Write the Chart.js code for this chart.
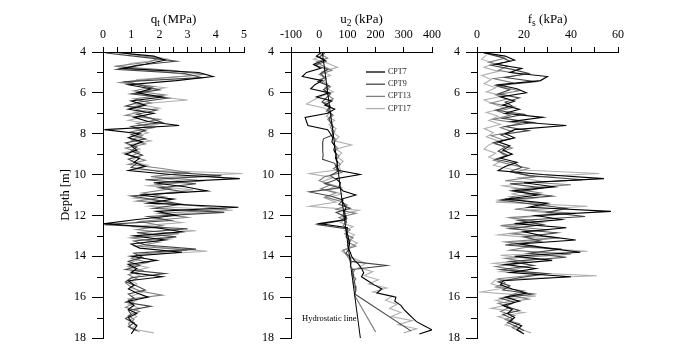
<!DOCTYPE html>
<html>
<head>
<meta charset="utf-8">
<script src="https://cdn.jsdelivr.net/npm/chart.js@4.4.1/dist/chart.umd.min.js"></script>
<style>
  html, body { margin: 0; padding: 0; background: #fff; }
  #wrap { position: relative; width: 681px; height: 356px; }
  #wrap canvas { position: absolute; left: 0; top: 0; }
</style>
</head>
<body>
<div id="wrap">
  <canvas id="qtChart" width="681" height="356"></canvas>
  <canvas id="u2Chart" width="681" height="356"></canvas>
  <canvas id="fsChart" width="681" height="356"></canvas>
</div>
<script>
// soundings
var cpt = ["CPT7", "CPT9", "CPT13", "CPT17"];
var colors = ["#000000", "#444444", "#808080", "#b0b0b0"];

// depths (m) of the readings of each sounding
var depth7 = [4.0, 4.2, 4.4, 4.6, 4.8, 5.0, 5.2, 5.4, 5.6, 5.8,
  6.0, 6.2, 6.4, 6.6, 6.8, 7.0, 7.2, 7.4, 7.6, 7.8,
  8.0, 8.2, 8.4, 8.6, 8.8, 9.0, 9.2, 9.4, 9.6, 9.8,
  10.0, 10.2, 10.4, 10.6, 10.8, 11.0, 11.2, 11.4, 11.6, 11.8,
  12.0, 12.2, 12.4, 12.6, 12.8, 13.0, 13.2, 13.4, 13.6, 13.8,
  14.0, 14.2, 14.4, 14.6, 14.8, 15.0, 15.2, 15.4, 15.6, 15.8,
  16.0, 16.2, 16.4, 16.6, 16.8, 17.0, 17.2, 17.4, 17.6, 17.8];
var depth9 = [4.05, 4.25, 4.45, 4.65, 4.85, 5.05, 5.25, 5.45, 5.65, 5.85,
  6.05, 6.25, 6.45, 6.65, 6.85, 7.05, 7.25, 7.45, 7.65, 7.85,
  8.05, 8.25, 8.45, 8.65, 8.85, 9.05, 9.25, 9.45, 9.65, 9.85,
  10.05, 10.25, 10.45, 10.65, 10.85, 11.05, 11.25, 11.45, 11.65, 11.85,
  12.05, 12.25, 12.45, 12.65, 12.85, 13.05, 13.25, 13.45, 13.65, 13.85,
  14.05, 14.25, 14.45, 14.65, 14.85, 15.05, 15.25, 15.45, 15.65, 15.85,
  16.05, 16.25, 16.45, 16.65, 16.85, 17.05, 17.25, 17.45, 17.65];
var depth13 = [4.1, 4.3, 4.5, 4.7, 4.9, 5.1, 5.3, 5.5, 5.7, 5.9,
  6.1, 6.3, 6.5, 6.7, 6.9, 7.1, 7.3, 7.5, 7.7, 7.9,
  8.1, 8.3, 8.5, 8.7, 8.9, 9.1, 9.3, 9.5, 9.7, 9.9,
  10.1, 10.3, 10.5, 10.7, 10.9, 11.1, 11.3, 11.5, 11.7, 11.9,
  12.1, 12.3, 12.5, 12.7, 12.9, 13.1, 13.3, 13.5, 13.7, 13.9,
  14.1, 14.3, 14.5, 14.7, 14.9, 15.1, 15.3, 15.5, 15.7, 15.9,
  16.1, 16.3, 16.5, 16.7, 16.9, 17.1, 17.3, 17.5, 17.7];
var depth17 = [4.15, 4.35, 4.55, 4.75, 4.95, 5.15, 5.35, 5.55, 5.75, 5.95,
  6.15, 6.35, 6.55, 6.75, 6.95, 7.15, 7.35, 7.55, 7.75, 7.95,
  8.15, 8.35, 8.55, 8.75, 8.95, 9.15, 9.35, 9.55, 9.75, 9.95,
  10.15, 10.35, 10.55, 10.75, 10.95, 11.15, 11.35, 11.55, 11.75, 11.95,
  12.15, 12.35, 12.55, 12.75, 12.95, 13.15, 13.35, 13.55, 13.75, 13.95,
  14.15, 14.35, 14.55, 14.75, 14.95, 15.15, 15.35, 15.55, 15.75, 15.95,
  16.15, 16.35, 16.55, 16.75, 16.95, 17.15, 17.35, 17.55, 17.75];

// cone resistance qt (MPa)
var qt7 = [0.3, 1.8, 2.2, 1.5, 0.7, 3.4, 3.9, 2.6, 0.9, 1.7,
  1.2, 2.1, 1.0, 1.5, 0.9, 1.8, 1.1, 1.6, 2.7, 0.05,
  1.3, 0.9, 1.4, 1.0, 1.2, 0.8, 1.3, 1.1, 1.5, 0.9,
  2.4, 4.85, 1.8, 2.9, 3.7, 1.3, 2.5, 1.6, 4.8, 1.9,
  2.6, 1.2, 0.05, 1.9, 2.8, 1.1, 2.2, 1.0, 1.3, 2.8,
  1.0, 1.9, 0.9, 1.2, 1.0, 2.1, 0.9, 1.1, 0.9, 1.2,
  1.6, 0.9, 1.1, 0.9, 1.2, 0.9, 1.0, 1.2, 1.1, 1.0];
var qt9 = [0.1, 1.4, 2.6, 1.2, 0.5, 2.9, 3.5, 0.8, 1.4, 2.0,
  1.0, 2.3, 1.3, 0.8, 1.9, 1.2, 1.7, 2.1, 1.0, 1.5,
  1.0, 1.5, 0.8, 1.2, 1.0, 1.4, 0.9, 1.2, 1.0, 2.0,
  4.2, 1.5, 3.3, 2.0, 2.9, 1.0, 1.9, 2.8, 1.8, 4.3,
  1.6, 2.4, 0.05, 3.0, 1.2, 2.6, 1.1, 1.5, 3.3, 1.1,
  1.4, 0.9, 1.3, 0.8, 2.2, 1.0, 0.8, 1.2, 1.5, 0.9,
  1.1, 0.8, 1.7, 0.9, 1.0, 0.8, 1.1, 0.9, 1.2];
var qt13 = [0.9, 2.0, 1.6, 0.4, 2.4, 3.6, 1.9, 0.6, 1.8, 1.1,
  2.2, 1.1, 1.7, 1.0, 1.4, 0.8, 2.0, 1.2, 1.8, 1.0,
  1.4, 1.0, 1.5, 0.8, 1.3, 1.0, 1.5, 0.9, 2.1, 3.0,
  1.7, 3.6, 1.9, 2.4, 1.4, 2.2, 1.2, 3.1, 4.4, 2.0,
  3.0, 1.3, 2.1, 1.2, 2.7, 1.0, 2.0, 1.2, 3.0, 1.3,
  1.0, 1.6, 0.9, 1.4, 0.9, 1.2, 0.8, 1.0, 1.3, 2.1,
  0.9, 1.1, 0.8, 1.3, 0.9, 1.1, 0.9, 1.0, 1.3];
var qt17 = [1.5, 2.3, 1.0, 0.6, 2.0, 3.3, 1.2, 1.0, 2.2, 1.3,
  1.6, 3.0, 1.2, 2.0, 1.1, 1.5, 0.9, 1.9, 1.1, 1.6,
  1.1, 1.7, 0.9, 1.3, 0.7, 1.2, 1.0, 1.6, 1.1, 4.95,
  2.0, 2.9, 1.6, 3.2, 1.8, 1.1, 2.4, 1.6, 4.6, 2.5,
  1.8, 2.8, 1.0, 3.3, 1.5, 2.4, 1.3, 1.9, 3.7, 1.2,
  1.3, 0.9, 1.6, 1.0, 1.3, 0.9, 1.2, 1.0, 1.4, 1.0,
  1.2, 0.9, 1.3, 1.0, 1.2, 0.9, 1.2, 1.0, 1.8];

// pore pressure u2 (kPa), null = no reading
var u7 = [10, -10, 20, -20, 5, -45, -60, 10, -15, -30,
  35, -10, 45, 20, 55, 30, -50, -45, -40, 30,
  40, 48, 45, 55, 52, 60, 58, 65, 62, 70,
  145, 60, 75, 70, 85, 130, 80, 85, 95, 90,
  92, 95, 0, 100, 98, 102, 105, 108, 104, 110,
  115, 125, 140, 150, 158, 150, 172, 195, 222, 205,
  272, 268, 290, 300, 315, 330, 345, 372, 400, 355];
var u9 = [20, 0, 25, -15, 30, 5, 20, -5, 35, 15,
  40, 25, 10, 40, 30, 45, 35, 40, 50, 45,
  50, 15, 12, 13, 12, 14, 12, 55, 60, 65,
  40, 60, 20, 75, -35, 40, 85, 70, 110, 60,
  90, 80, -5, 95, 100, 95, 110, 100, 105, 95,
  110, 112, 240, 118, 120, 122, 125, 128, 130, 126,
  null, null, null, null, null, null, null, null, 325];
var u13 = [5, 30, -10, 15, 45, 0, 25, 10, 40, 20,
  30, 50, 15, 35, 25, 50, 30, 45, 40, 55,
  45, 60, 50, 65, 55, 70, 60, 75, 50, 80,
  20, 0, 40, 5, 60, 20, 75, 100, 60, 130,
  70, 95, 85, 110, 90, 120, 100, 130, 85, 95,
  105, 115, 110, 125, 115, 130, 120, 125, 130, 125,
  null, null, null, null, null, null, null, null, 200];
var u17 = [15, -20, 30, 65, 10, 40, 0, 30, 20, 50,
  10, -20, -45, 20, 40, 25, 55, 35, 60, 50,
  70, 55, 115, 60, 80, 65, 85, 70, 75, -35,
  50, 10, 60, 30, 80, 20, 60, -35, 140, 80,
  100, 75, 120, 90, 125, 105, 135, 110, 80, 100,
  130, 165, 140, 190, 160, 210, 175, 240, 190, 260,
  235, 275, 250, 290, 255, 330, 280, 345, 300];

// hydrostatic line
var hydroDepth = [4, 18];
var hydroU = [11, 146];

// sleeve friction fs (kPa)
var fs7 = [1, 12, 16, 8, 19, 14, 30, 27, 9, 17,
  21, 10, 16, 11, 18, 12, 28, 15, 38, 16,
  12, 16, 9, 14, 11, 15, 10, 17, 12, 9,
  28, 54, 20, 33, 15, 26, 12, 30, 22, 57,
  25, 36, 16, 38, 20, 28, 42, 18, 30, 44,
  16, 32, 12, 25, 14, 40, 11, 10, 15, 21,
  12, 18, 11, 15, 13, 16, 14, 19, 17, 20];
var fs9 = [3, 10, 14, 6, 15, 22, 12, 25, 8, 14,
  9, 18, 12, 15, 8, 20, 11, 24, 12, 22,
  10, 14, 7, 12, 9, 13, 8, 16, 19, 14,
  22, 45, 14, 28, 18, 32, 10, 24, 38, 30,
  46, 18, 28, 14, 34, 20, 27, 12, 36, 22,
  38, 14, 24, 10, 30, 18, 9, 14, 11, 24,
  10, 16, 12, 18, 11, 15, 13, 17, 20];
var fs13 = [6, 12, 5, 13, 9, 20, 7, 15, 10, 18,
  8, 13, 6, 16, 9, 14, 7, 18, 10, 15,
  6, 11, 8, 15, 10, 12, 7, 14, 22, 16,
  25, 12, 40, 16, 27, 14, 20, 30, 16, 42,
  14, 26, 10, 30, 15, 35, 12, 24, 14, 40,
  12, 22, 8, 18, 26, 9, 12, 8, 20, 14,
  22, 9, 14, 10, 16, 12, 18, 15, 19];
var fs17 = [4, 2, 7, 3, 9, 2, 6, 3, 8, 4,
  11, 3, 7, 12, 4, 9, 5, 10, 3, 7,
  4, 9, 5, 3, 8, 5, 10, 7, 15, 52,
  18, 28, 11, 22, 15, 25, 8, 47, 20, 35,
  15, 28, 12, 22, 9, 30, 14, 20, 47, 10,
  25, 7, 20, 10, 51, 8, 6, 12, 1.5, 25,
  8, 14, 6, 20, 9, 15, 12, 18, 23];

// unlabelled depth ticks
var minorDepths = [5, 7, 9, 11, 13, 15, 17];

var depths = [depth7, depth9, depth13, depth17];
var serif = "'Liberation Serif', 'Times New Roman', serif";
Chart.defaults.font.family = serif;
Chart.defaults.font.size = 12;
Chart.defaults.color = "#000";

function points(dep, vals) {
  return dep.map(function (d, i) { return { x: vals[i], y: d }; })
    .filter(function (p) { return p.x !== null; });
}

function profile(vals) {
  return vals.map(function (v, i) {
    return {
      label: cpt[i],
      data: points(depths[i], v),
      borderColor: colors[i],
      borderWidth: 1.1,
      pointRadius: 0,
      showLine: true,
      tension: 0
    };
  });
}

// titles with subscripts, depth label, minor ticks, legend
var decor = {
  id: "decor",
  afterDraw: function (chart, args, o) {
    var ctx = chart.ctx, a = chart.chartArea, y = chart.scales.y;
    ctx.save();
    ctx.strokeStyle = "#000";
    ctx.lineWidth = 1;
    minorDepths.forEach(function (v) {
      var py = Math.round(y.getPixelForValue(v)) + 0.5;
      ctx.beginPath();
      ctx.moveTo(a.left - 6, py);
      ctx.lineTo(a.left, py);
      ctx.stroke();
    });

    ctx.fillStyle = "#000";
    ctx.textBaseline = "alphabetic";
    ctx.textAlign = "left";
    var big = "13px " + serif, small = "9.5px " + serif;
    ctx.font = big;
    var w1 = ctx.measureText(o.main).width, w3 = ctx.measureText(o.unit).width;
    ctx.font = small;
    var w2 = ctx.measureText(o.sub).width;
    var x0 = (a.left + a.right) / 2 - (w1 + w2 + w3) / 2;
    ctx.font = big;
    ctx.fillText(o.main, x0, 23);
    ctx.font = small;
    ctx.fillText(o.sub, x0 + w1, 26);
    ctx.font = big;
    ctx.fillText(o.unit, x0 + w1 + w2, 23);

    if (o.depthLabel) {
      ctx.save();
      ctx.translate(66, (a.top + a.bottom) / 2);
      ctx.rotate(-Math.PI / 2);
      ctx.textAlign = "center";
      ctx.textBaseline = "middle";
      ctx.font = "12.5px " + serif;
      ctx.fillText("Depth [m]", 0, 0);
      ctx.restore();
    }

    if (o.legend) {
      ctx.font = "8px " + serif;
      ctx.textBaseline = "middle";
      chart.data.datasets.forEach(function (ds) {
        var k = cpt.indexOf(ds.label);
        if (k < 0) return;
        var ly = 72 + k * 12.2;
        ctx.strokeStyle = ds.borderColor;
        ctx.lineWidth = 1.3;
        ctx.beginPath();
        ctx.moveTo(366, ly);
        ctx.lineTo(385, ly);
        ctx.stroke();
        ctx.fillStyle = "#222";
        ctx.fillText(ds.label, 388, ly);
      });
      ctx.fillStyle = "#000";
      ctx.font = "8.5px " + serif;
      ctx.fillText("Hydrostatic line", 302, 319);
    }
    ctx.restore();
  }
};

function panel(id, datasets, xs, deco) {
  return new Chart(document.getElementById(id), {
    type: "scatter",
    data: { datasets: datasets },
    options: {
      responsive: false,
      animation: false,
      events: [],
      layout: { padding: { left: xs.left - 40, right: 681 - xs.right, top: 0, bottom: 18 } },
      plugins: { legend: { display: false }, tooltip: { enabled: false }, decor: deco },
      scales: {
        x: {
          type: "linear",
          position: "top",
          min: xs.min,
          max: xs.max,
          afterFit: function (s) { s.height = 52; },
          afterBuildTicks: function (s) {
            s.ticks = xs.ticks.map(function (v) { return { value: v }; });
          },
          ticks: {
            autoSkip: false,
            maxRotation: 0,
            padding: 5,
            callback: function (v) { return xs.labels.indexOf(v) >= 0 ? String(v) : ""; }
          },
          grid: { drawOnChartArea: false, tickLength: 5, color: "#000" },
          border: { color: "#000", width: 1 }
        },
        y: {
          type: "linear",
          reverse: true,
          min: 4,
          max: 18,
          afterFit: function (s) { s.width = 40; },
          ticks: {
            stepSize: 1,
            autoSkip: false,
            padding: 6,
            callback: function (v) { return v % 2 === 0 ? String(v) : ""; }
          },
          grid: {
            drawOnChartArea: false,
            tickLength: 11,
            color: function (c) { return c.tick && c.tick.value % 2 ? "rgba(0,0,0,0)" : "#000"; }
          },
          border: { color: "#000", width: 1 }
        }
      }
    },
    plugins: [decor]
  });
}

panel("qtChart", profile([qt7, qt9, qt13, qt17]),
  { left: 103, right: 244, min: 0, max: 5,
    ticks: [0, 0.5, 1, 1.5, 2, 2.5, 3, 3.5, 4, 4.5, 5], labels: [0, 1, 2, 3, 4, 5] },
  { main: "q", sub: "t", unit: " (MPa)", depthLabel: true });

var u2Sets = profile([u7, u9, u13, u17]);
u2Sets.unshift({
  label: "Hydrostatic line",
  data: points(hydroDepth, hydroU),
  borderColor: "#000",
  borderWidth: 1,
  pointRadius: 0,
  showLine: true
});
panel("u2Chart", u2Sets,
  { left: 291, right: 432, min: -100, max: 400,
    ticks: [-100, 0, 100, 200, 300, 400], labels: [-100, 0, 100, 200, 300, 400] },
  { main: "u", sub: "2", unit: " (kPa)", legend: true });

panel("fsChart", profile([fs7, fs9, fs13, fs17]),
  { left: 477, right: 618, min: 0, max: 60,
    ticks: [0, 10, 20, 30, 40, 50, 60], labels: [0, 20, 40, 60] },
  { main: "f", sub: "s", unit: " (kPa)" });
</script>
</body>
</html>
